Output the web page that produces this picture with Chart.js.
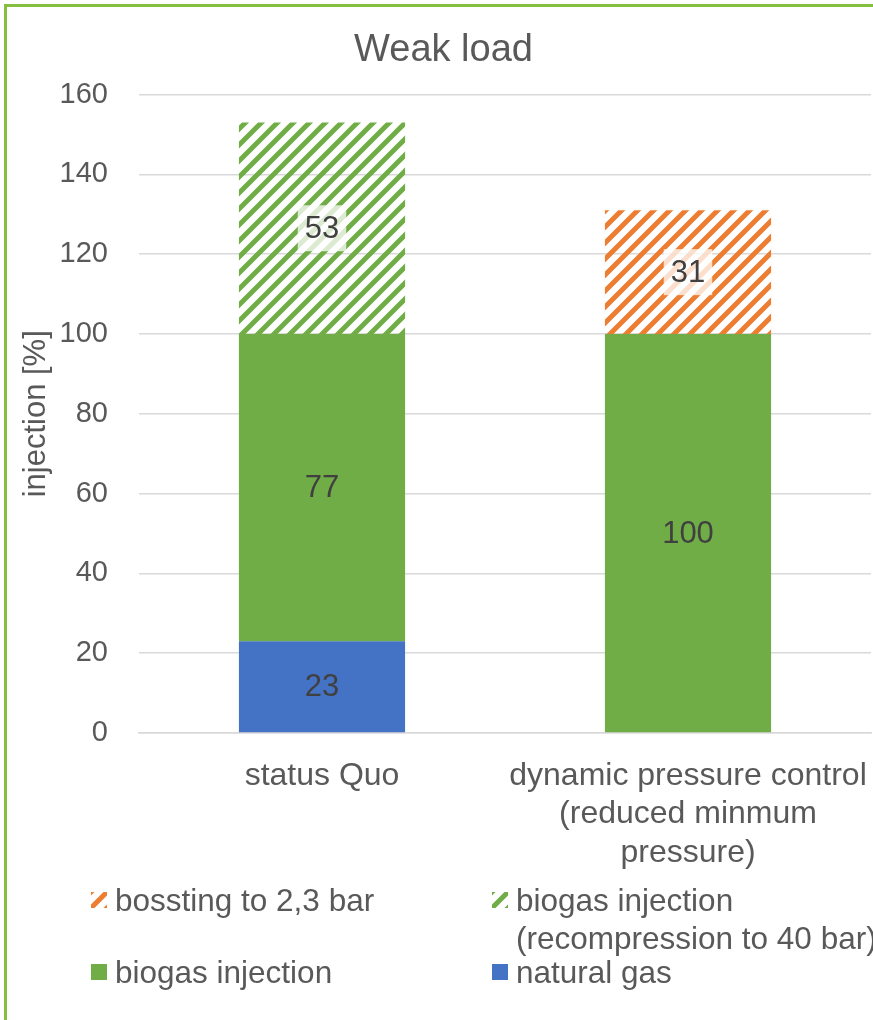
<!DOCTYPE html>
<html>
<head>
<meta charset="utf-8">
<script src="https://cdn.jsdelivr.net/npm/chart.js@4"></script>
<style>
  html, body { margin: 0; padding: 0; background: #fff; overflow: hidden; }
  #wrap { position: relative; width: 873px; height: 1020px; overflow: hidden; }
  #frame { position: absolute; left: 4px; top: 4px; width: 2000px; height: 2000px;
           border-left: 3px solid #86BE3F; border-top: 3px solid #86BE3F; }
  #chartBox { position: absolute; left: 0; top: 0; width: 873px; height: 1020px; }
  .lg { position: absolute; font: 31.5px "Liberation Sans", Arial, sans-serif; color: #595959;
        line-height: 38px; white-space: nowrap; }
  .sw { position: absolute; width: 16px; height: 16px; }
</style>
</head>
<body>
<div id="wrap">
  <div id="frame"></div>
  <div id="chartBox"><canvas id="weakLoad"></canvas></div>
  <div id="legend"></div>
</div>
<script>
const categories = ["status Quo", ["dynamic pressure control", "(reduced minmum", "pressure)"]];
const naturalGas = [23, null];
const biogasInjection = [77, 100];
const biogasRecompression = [53, null];
const boosting = [null, 31];
const yTicks = [0, 20, 40, 60, 80, 100, 120, 140, 160];

const FONT = '"Liberation Sans", Arial, sans-serif';
const ORANGE = "#ED7D31";
const GREEN = "#70AD47";
const BLUE = "#4472C4";

function makeHatch(color) {
  const s = 16;
  const c = document.createElement("canvas");
  c.width = s;
  c.height = s;
  const g = c.getContext("2d");
  g.strokeStyle = color;
  g.lineWidth = 5;
  g.beginPath();
  g.moveTo(-s / 2, s / 2); g.lineTo(s / 2, -s / 2);
  g.moveTo(0, s); g.lineTo(s, 0);
  g.moveTo(s / 2, s * 1.5); g.lineTo(s * 1.5, s / 2);
  g.stroke();
  return g.createPattern(c, "repeat");
}

const datasets = [
  { label: "natural gas", data: naturalGas, backgroundColor: BLUE, hatched: false },
  { label: "biogas injection", data: biogasInjection, backgroundColor: GREEN, hatched: false },
  { label: ["biogas injection", "(recompression to 40 bar)"], data: biogasRecompression,
    backgroundColor: makeHatch(GREEN), hatched: true, swatch: GREEN },
  { label: "bossting to 2,3 bar", data: boosting, backgroundColor: makeHatch(ORANGE),
    hatched: true, swatch: ORANGE },
];

// value labels in the middle of each segment
const segmentLabels = {
  id: "segmentLabels",
  afterDatasetsDraw(chart) {
    const ctx = chart.ctx;
    ctx.save();
    ctx.font = "31px " + FONT;
    ctx.textAlign = "center";
    ctx.textBaseline = "middle";
    chart.data.datasets.forEach((ds, i) => {
      const meta = chart.getDatasetMeta(i);
      meta.data.forEach((bar, j) => {
        const v = ds.data[j];
        if (v == null) return;
        const y = (bar.y + bar.base) / 2;
        const txt = String(v);
        if (ds.hatched) {
          const w = ctx.measureText(txt).width + 14;
          ctx.fillStyle = "rgba(255,255,255,0.75)";
          ctx.fillRect(bar.x - w / 2, y - 23, w, 46);
        }
        ctx.fillStyle = "#404040";
        ctx.fillText(txt, bar.x, y + 1);
      });
    });
    ctx.restore();
  },
};

new Chart(document.getElementById("weakLoad"), {
  type: "bar",
  data: { labels: categories, datasets: datasets },
  options: {
    responsive: true,
    maintainAspectRatio: false,
    animation: false,
    layout: { padding: { left: 16, right: 2, top: 0, bottom: 127 } },
    datasets: { bar: { categoryPercentage: 1, barPercentage: 0.454 } },
    plugins: {
      legend: { display: false },
      tooltip: { enabled: false },
      title: {
        display: true,
        text: "Weak load",
        color: "#595959",
        font: { family: FONT, size: 38, weight: "normal" },
        padding: { top: 28, bottom: 21 },
      },
    },
    scales: {
      x: {
        stacked: true,
        grid: { display: false },
        border: { display: true, color: "#D9D9D9", width: 1.5 },
        ticks: { color: "#595959", padding: 16, maxRotation: 0,
                 font: { family: FONT, size: 32 } },
        afterFit: (s) => {
          s.height = 160;
          s.paddingLeft = 0;
          s.paddingRight = 0;
        },
      },
      y: {
        stacked: true,
        min: 0,
        max: 160,
        afterBuildTicks: (s) => { s.ticks = yTicks.map((v) => ({ value: v })); },
        grid: { color: "#D9D9D9", lineWidth: 1.5, drawTicks: false },
        border: { display: false },
        ticks: { color: "#595959", padding: 31, font: { family: FONT, size: 29 } },
        title: {
          display: true,
          text: "injection [%]",
          color: "#595959",
          font: { family: FONT, size: 31 },
          padding: { top: 2, bottom: 0 },
        },
        afterFit: (s) => {
          s.width = 123;
          s.paddingTop = 0;
          s.paddingBottom = 0;
        },
      },
    },
  },
  plugins: [segmentLabels],
});

// legend in two columns, top item of the stack first
const legendBox = document.getElementById("legend");
const legendOrder = datasets.slice().reverse();
const colX = [91, 492];
const rowY = [900, 972];
legendOrder.forEach((ds, k) => {
  const col = k % 2;
  const row = Math.floor(k / 2);
  const sw = document.createElement("canvas");
  sw.className = "sw";
  sw.width = 16;
  sw.height = 16;
  sw.style.left = colX[col] + "px";
  sw.style.top = rowY[row] - 8 + "px";
  const g = sw.getContext("2d");
  if (ds.hatched) {
    g.fillStyle = "#fff";
    g.fillRect(0, 0, 16, 16);
    g.fillStyle = makeHatch(ds.swatch);
    g.fillRect(0, 0, 16, 16);
  } else {
    g.fillStyle = ds.backgroundColor;
    g.fillRect(0, 0, 16, 16);
  }
  legendBox.appendChild(sw);
  const t = document.createElement("div");
  t.className = "lg";
  t.style.left = colX[col] + 24 + "px";
  t.style.top = rowY[row] - 19 + "px";
  t.innerHTML = [].concat(ds.label).join("<br>");
  legendBox.appendChild(t);
});
</script>
</body>
</html>
